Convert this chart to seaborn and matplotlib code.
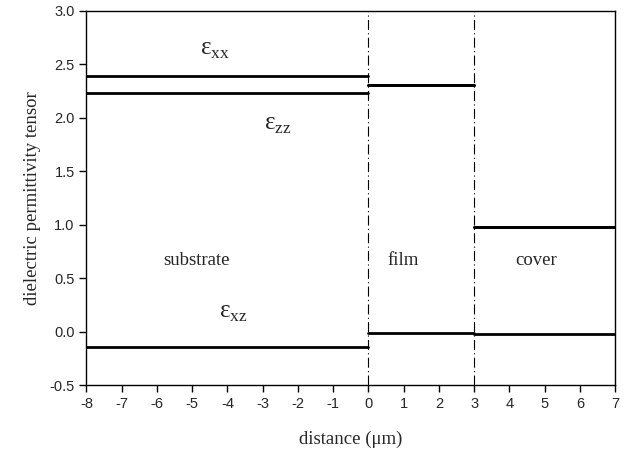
import pandas as pd
import numpy as np
import matplotlib
matplotlib.use('Agg')
import matplotlib.pyplot as plt
import seaborn as sns

# layer boundaries (um)
layers = ['substrate', 'film', 'cover']
x_start = [-8, 0, 3]
x_end = [0, 3, 7]

# tensor components per layer
eps_xx = [2.39, 2.30, 0.98]
eps_zz = [2.23, 2.30, 0.98]
eps_xz = [-0.14, -0.01, -0.02]

interfaces = [0, 3]

# label positions
label_x = [-4.87, 0.99, 4.76]
label_y = 0.66

sns.set_style('ticks')
plt.rcParams['font.family'] = ['Liberation Sans', 'DejaVu Sans']
plt.rcParams['mathtext.fontset'] = 'custom'
plt.rcParams['mathtext.rm'] = 'Liberation Serif'
plt.rcParams['axes.unicode_minus'] = False

rows = []
for comp, vals in [('xx', eps_xx), ('zz', eps_zz), ('xz', eps_xz)]:
    for i in range(len(layers)):
        seg = comp + '_' + layers[i]
        rows.append({'x': x_start[i], 'y': vals[i], 'seg': seg})
        rows.append({'x': x_end[i], 'y': vals[i], 'seg': seg})
df = pd.DataFrame(rows)

fig = plt.figure(figsize=(6.31, 4.59), dpi=100)
ax = fig.add_axes([0.137, 0.161, 0.838, 0.816])

sns.lineplot(data=df, x='x', y='y', units='seg', estimator=None,
             color='black', lw=2, ax=ax, legend=False)

for xi in interfaces:
    ax.axvline(xi, color='black', lw=0.8, ls=(0, (9, 3, 1, 3)))

ax.set_xlim(-8, 7)
ax.set_ylim(-0.5, 3.0)
ax.set_xticks(np.arange(-8, 8, 1))
ax.set_yticks(np.arange(-0.5, 3.01, 0.5))
ax.set_yticklabels(['%.1f' % v for v in np.arange(-0.5, 3.01, 0.5)])
ax.tick_params(labelsize=10.5, length=5, width=1, color='black')

for s in ax.spines.values():
    s.set_visible(True)
    s.set_color('black')
    s.set_linewidth(1)

serif = ['Liberation Serif', 'DejaVu Serif']
ax.set_xlabel('distance (μm)', family=serif, fontsize=13.5, labelpad=14)
ax.set_ylabel('dielectric permittivity tensor', family=serif, fontsize=13.5, labelpad=6)

for name, lx in zip(layers, label_x):
    ax.text(lx, label_y, name, family=serif, fontsize=13.5, ha='center', va='center')

ax.text(-4.36, 2.63, r'ε$_{\rm xx}$', family=serif, fontsize=18, ha='center', va='center')
ax.text(-2.58, 1.93, r'ε$_{\rm zz}$', family=serif, fontsize=18, ha='center', va='center')
ax.text(-3.82, 0.17, r'ε$_{\rm xz}$', family=serif, fontsize=18, ha='center', va='center')

fig.savefig('out.png', dpi=100)
